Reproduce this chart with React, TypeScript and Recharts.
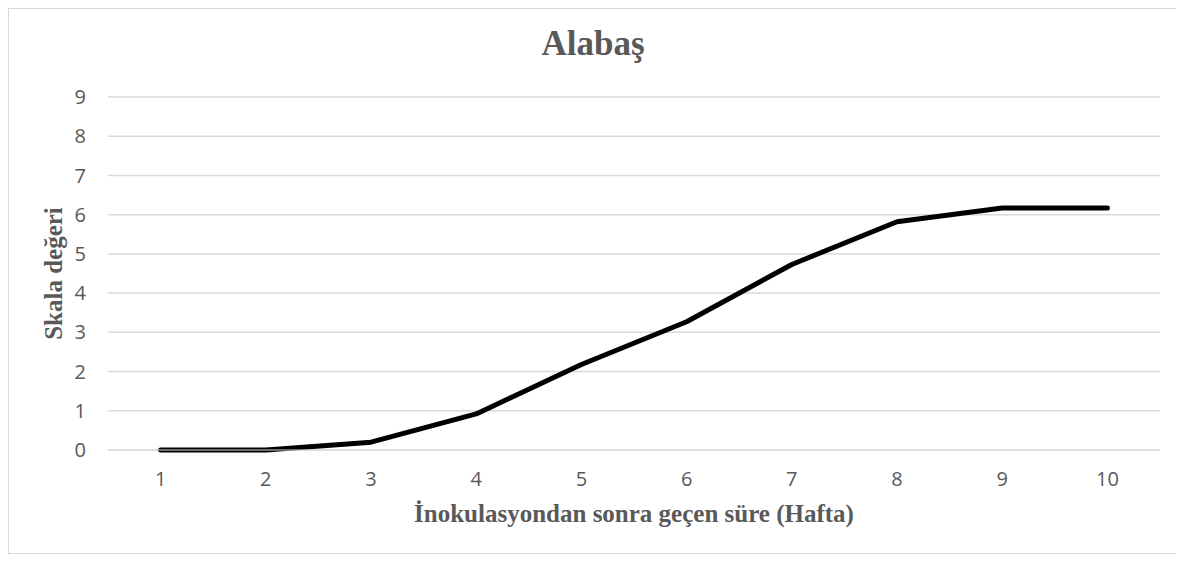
import React from "react";
import {
  LineChart,
  Line,
  XAxis,
  YAxis,
  CartesianGrid,
  Label,
} from "recharts";

const weeks = ["1", "2", "3", "4", "5", "6", "7", "8", "9", "10"];
const scaleValues = [0, 0, 0.2, 0.92, 2.18, 3.27, 4.73, 5.82, 6.17, 6.17];
const yTicks = [0, 1, 2, 3, 4, 5, 6, 7, 8, 9];

const TITLE = "Alabaş";
const X_TITLE = "İnokulasyondan sonra geçen süre (Hafta)";
const Y_TITLE = "Skala değeri";

const data = weeks.map((w, i) => ({ week: w, value: scaleValues[i] }));

const gray = "#595959";
const serif = '"Liberation Serif", "Times New Roman", serif';
const sans = '"Open Sans", "Liberation Sans", sans-serif';

export default function App() {
  return (
    <div
      style={{
        position: "relative",
        width: 1168,
        height: 544,
        border: "1px solid #d9d9d9",
        background: "#fff",
      }}
    >
      <div
        style={{
          position: "absolute",
          top: 17,
          left: 0,
          width: "100%",
          textAlign: "center",
          fontFamily: serif,
          fontWeight: "bold",
          fontSize: 35,
          lineHeight: "35px",
          color: gray,
        }}
      >
        {TITLE}
      </div>
      <LineChart
        width={1168}
        height={544}
        data={data}
        margin={{ top: 88, right: 17, left: 0, bottom: 0 }}
      >
        <CartesianGrid vertical={false} stroke="#d9d9d9" strokeWidth={1.5} />
        <XAxis
          dataKey="week"
          height={103}
          stroke="#d9d9d9"
          tickLine={false}
          tickMargin={16}
          padding={{ left: 52.6, right: 52.6 }}
          tick={{ fill: gray, fontSize: 20, fontFamily: sans }}
        >
          <Label
            content={({ viewBox }: any) => (
              <text
                x={viewBox.x + viewBox.width / 2}
                y={viewBox.y + 63}
                textAnchor="middle"
                dominantBaseline="central"
                fill={gray}
                fontFamily={serif}
                fontWeight="bold"
                fontSize={25}
              >
                {X_TITLE}
              </text>
            )}
          />
        </XAxis>
        <YAxis
          width={99}
          domain={[0, 9]}
          ticks={yTicks}
          axisLine={false}
          tickLine={false}
          tickMargin={16}
          tick={{ fill: gray, fontSize: 20, fontFamily: sans }}
        >
          <Label
            content={({ viewBox }: any) => {
              const cx = viewBox.x + 44;
              const cy = viewBox.y + viewBox.height / 2;
              return (
                <text
                  x={cx}
                  y={cy}
                  transform={`rotate(-90 ${cx} ${cy})`}
                  textAnchor="middle"
                  dominantBaseline="central"
                  fill={gray}
                  fontFamily={serif}
                  fontWeight="bold"
                  fontSize={25}
                >
                  {Y_TITLE}
                </text>
              );
            }}
          />
        </YAxis>
        <Line
          type="linear"
          dataKey="value"
          stroke="#000"
          strokeWidth={5}
          strokeLinecap="round"
          strokeLinejoin="round"
          dot={false}
          activeDot={false}
          isAnimationActive={false}
        />
      </LineChart>
    </div>
  );
}
